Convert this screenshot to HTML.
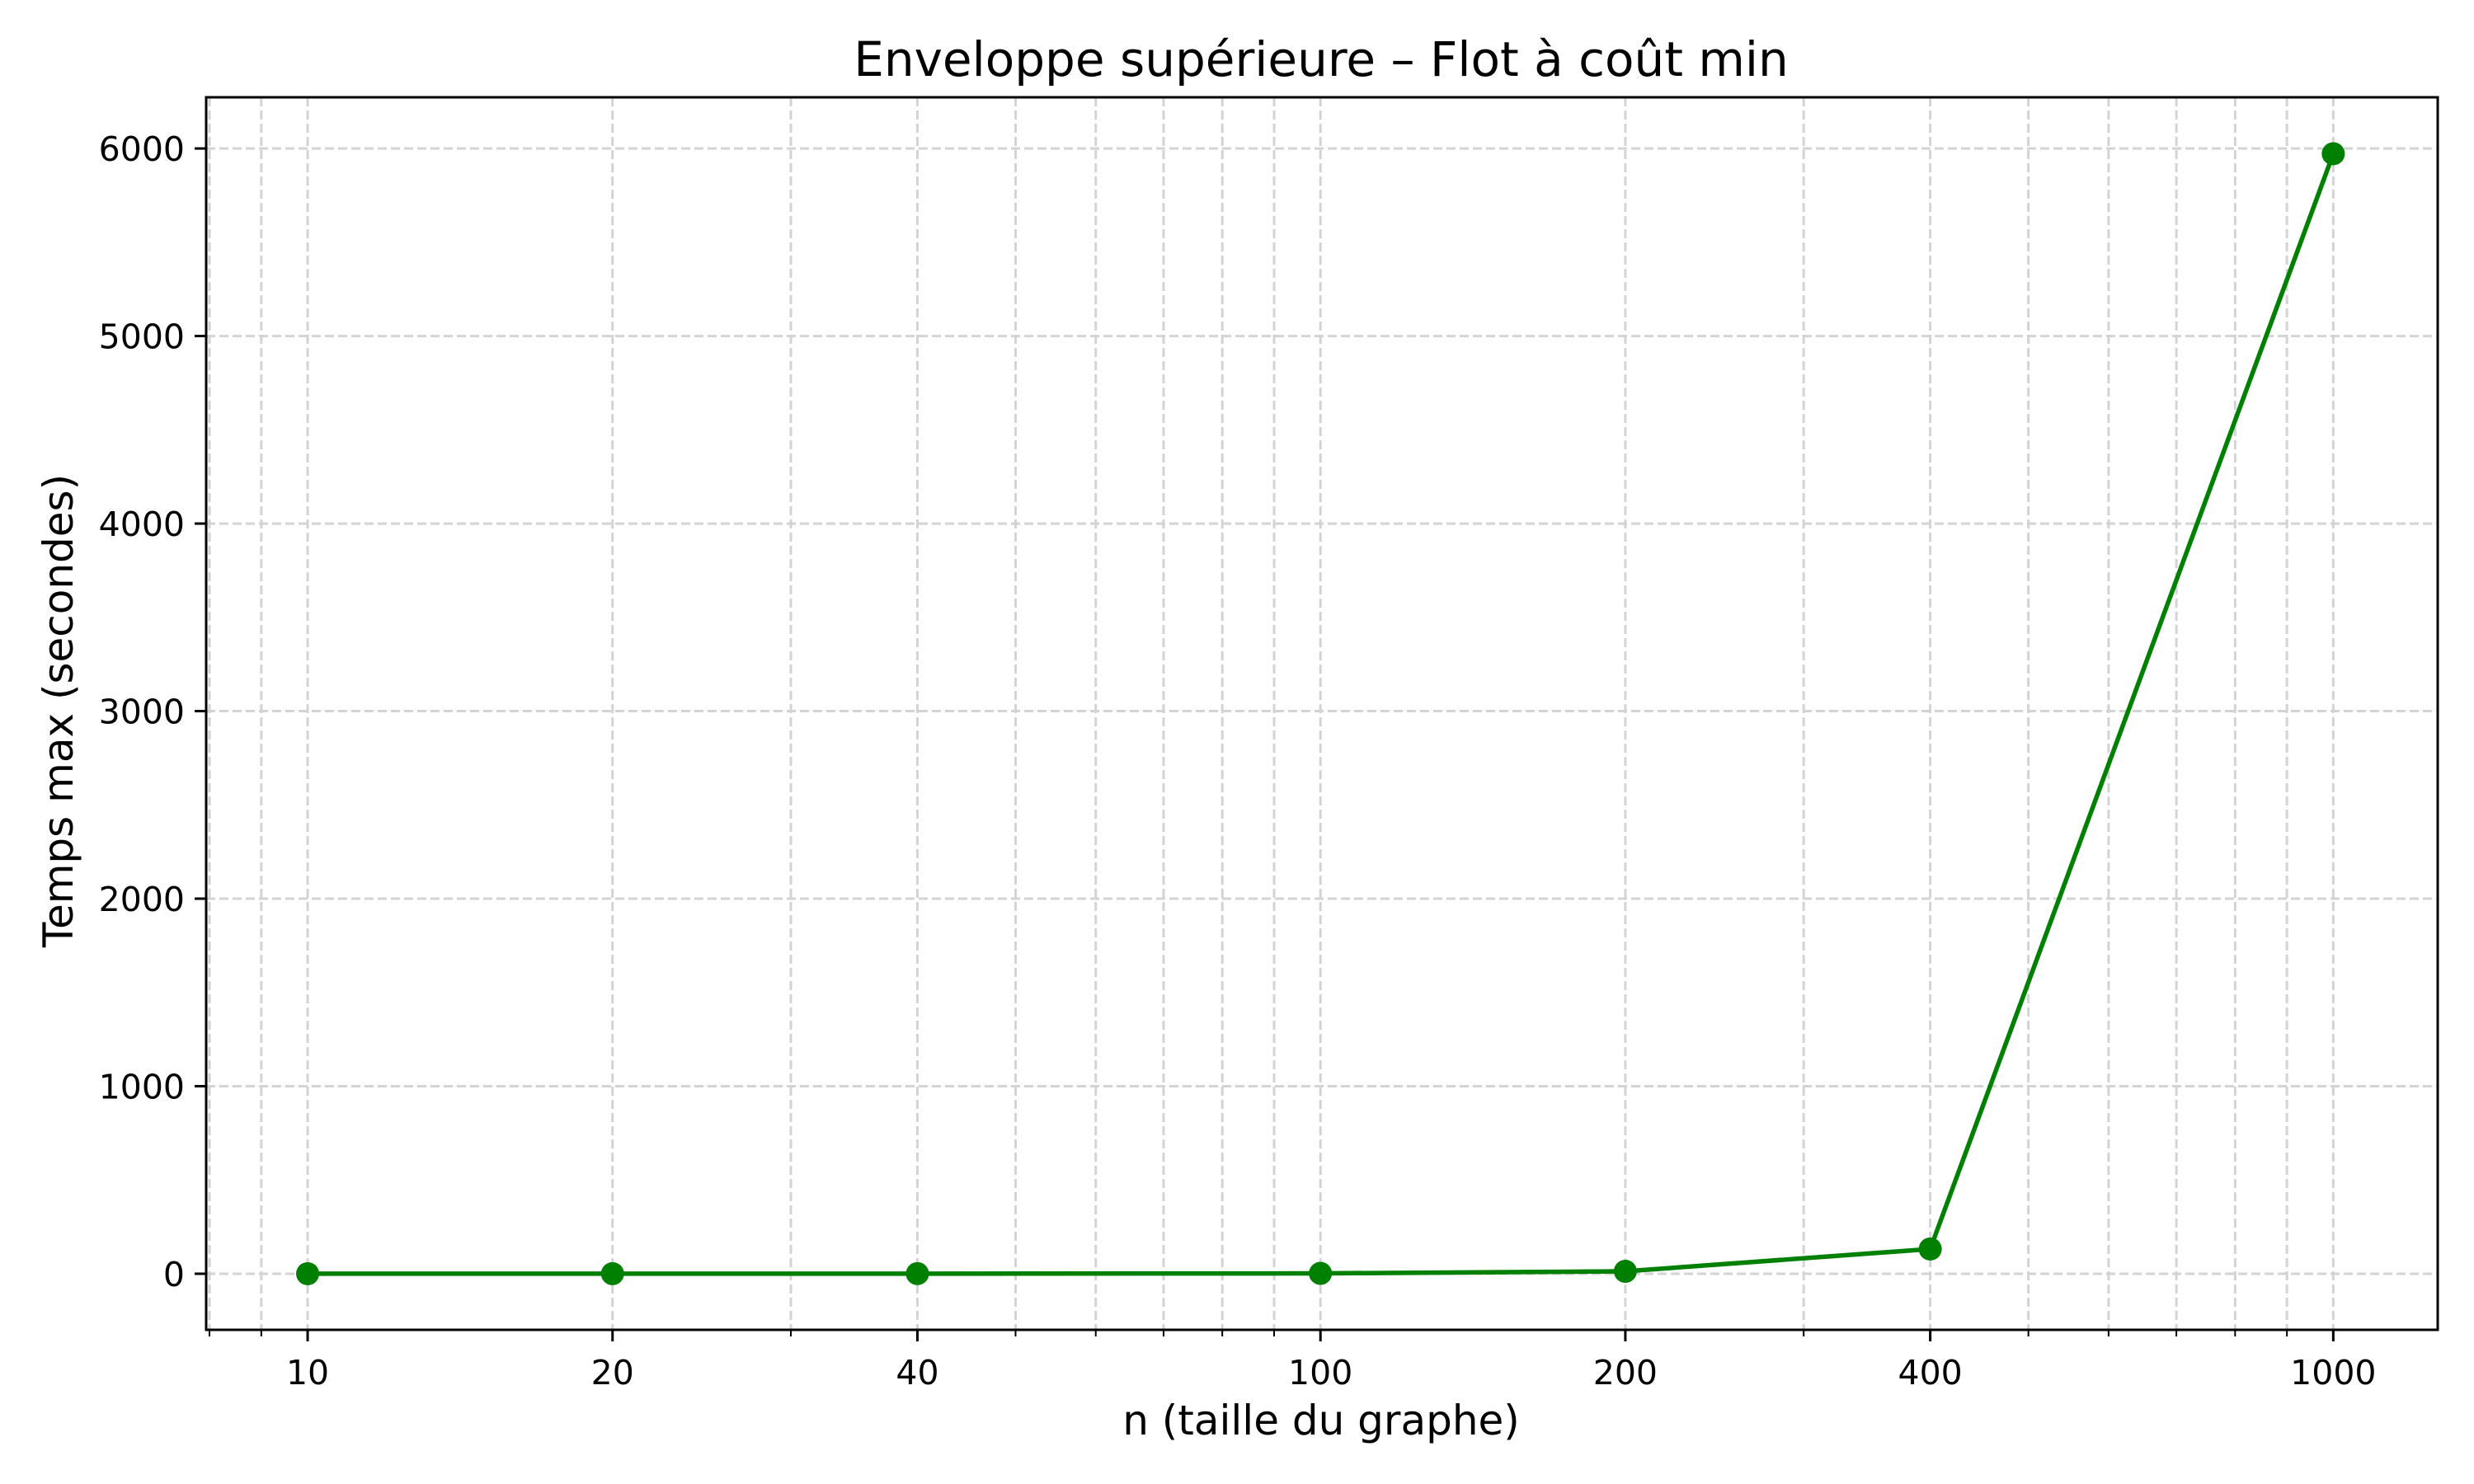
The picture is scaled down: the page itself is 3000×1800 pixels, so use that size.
<!DOCTYPE html>
<html><head><meta charset="utf-8"><style>
html,body{margin:0;padding:0;background:#fff;}
svg{display:block;font-family:"DejaVu Sans","Liberation Sans",sans-serif;}
</style></head><body>
<svg id="chart" width="3000" height="1800" viewBox="0 0 3000 1800">
<rect width="3000" height="1800" fill="#fff"/>
<g id="grid"></g>
<g id="series"></g>
<g id="axes"></g>
<text x="1602" y="92" font-size="58" text-anchor="middle">Enveloppe supérieure – Flot à coût min</text>
<text x="1602" y="1740" font-size="50" text-anchor="middle">n (taille du graphe)</text>
<text transform="translate(88,862) rotate(-90)" font-size="50" text-anchor="middle">Temps max (secondes)</text>
</svg>
<script>
const categories = [10, 20, 40, 100, 200, 400, 1000];
const values = [0.2, 0.4, 0.6, 2, 13, 132, 5972];
const xTickValues = [10, 20, 40, 100, 200, 400, 1000];
const xTickLabels = ["10", "20", "40", "100", "200", "400", "1000"];
const yTickValues = [0, 1000, 2000, 3000, 4000, 5000, 6000];
const yTickLabels = ["0", "1000", "2000", "3000", "4000", "5000", "6000"];

const L=250,R=2956,T=118,B=1613;
const xMin=Math.log10(7.94), xMax=Math.log10(1268);
const yMin=-299, yMax=6273;
const X=v=>L+(Math.log10(v)-xMin)/(xMax-xMin)*(R-L);
const Y=v=>B-(v-yMin)/(yMax-yMin)*(B-T);
const NS="http://www.w3.org/2000/svg";
function mk(tag,attrs,parent){const e=document.createElementNS(NS,tag);for(const k in attrs)e.setAttribute(k,attrs[k]);parent.appendChild(e);return e;}
const grid=document.getElementById('grid'),axes=document.getElementById('axes'),series=document.getElementById('series');

const minors=[];
for(let d=1;d<=1000;d*=10)for(let m=1;m<10;m++){const v=m*d;const lv=Math.log10(v);if(lv>=xMin&&lv<=xMax&&!xTickValues.includes(v))minors.push(v);}
minors.forEach(v=>{
  const x=X(v);
  const g=mk('line',{x1:x,x2:x,y1:T,y2:B,stroke:'#d3d3d3','stroke-width':3,'stroke-dasharray':'11 5'},grid);
  
  
  const t=mk('line',{x1:x,x2:x,y1:B,y2:B+8,stroke:'#000','stroke-width':2},axes);
  
  
});
xTickValues.forEach((v,i)=>{
  const x=X(v);
  const g=mk('line',{x1:x,x2:x,y1:T,y2:B,stroke:'#d3d3d3','stroke-width':3,'stroke-dasharray':'11 5'},grid);
  
  
  const t=mk('line',{x1:x,x2:x,y1:B,y2:B+14,stroke:'#000','stroke-width':3},axes);
  
  
  const l=mk('text',{x:x,y:B+66,'font-size':41,'text-anchor':'middle'},axes);
  l.textContent=xTickLabels[i];
  
  
});
yTickValues.forEach((v,i)=>{
  const y=Y(v);
  const g=mk('line',{x1:L,x2:R,y1:y,y2:y,stroke:'#d3d3d3','stroke-width':3,'stroke-dasharray':'11 5'},grid);
  
  
  const t=mk('line',{x1:L-14,x2:L,y1:y,y2:y,stroke:'#000','stroke-width':3},axes);
  
  
  const l=mk('text',{x:L-26,y:y+15,'font-size':41,'text-anchor':'end'},axes);
  l.textContent=yTickLabels[i];
  
  
});
const frame=mk('rect',{x:L,y:T,width:R-L,height:B-T,fill:'none',stroke:'#000','stroke-width':3},axes);



const pts=categories.map((c,i)=>X(c)+','+Y(values[i])).join(' ');
const pl=mk('polyline',{points:pts,fill:'none',stroke:'#008000','stroke-width':5.5,'stroke-linejoin':'round'},series);


categories.forEach((c,i)=>{
  const m=mk('circle',{cx:X(c),cy:Y(values[i]),r:14,fill:'#008000'},series);
  
  
});
</script>
</body></html>
